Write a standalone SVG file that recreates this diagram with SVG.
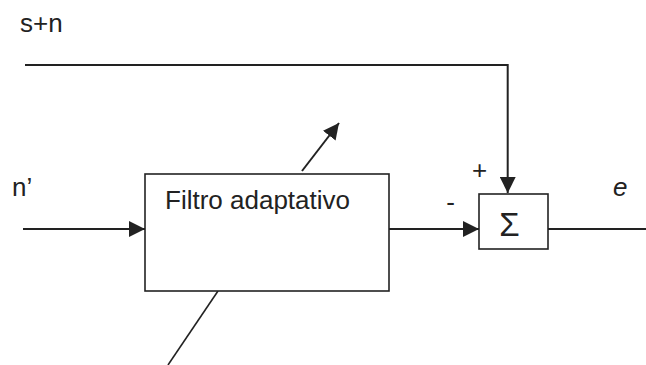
<svg xmlns="http://www.w3.org/2000/svg" width="646" height="365" viewBox="0 0 646 365">
<style>
text{font-family:"Liberation Sans",Arial,sans-serif;fill:#222;font-size:26px;}
.box{fill:#fff;stroke:#222;stroke-width:1.6;}
.ln{fill:none;stroke:#222;stroke-width:2;}
.thin{fill:none;stroke:#222;stroke-width:1.6;}
</style>
<defs>
<marker id="ah" viewBox="0 0 10 10" refX="10" refY="5" markerWidth="16" markerHeight="16" markerUnits="userSpaceOnUse" orient="auto">
<path d="M0,0 L10,5 L0,10 z" fill="#222"/>
</marker>
</defs>
<text x="20" y="32">s+n</text>
<text x="12" y="196">n’</text>
<g id="connectors">
<polyline class="ln" points="25,65 507.7,65 507.7,193" marker-end="url(#ah)"/>
<line class="ln" x1="23" y1="229" x2="145" y2="229" marker-end="url(#ah)"/>
<line class="ln" x1="389" y1="229" x2="479" y2="229" marker-end="url(#ah)"/>
<line class="ln" x1="548" y1="229" x2="646" y2="229"/>
<line class="ln" x1="302" y1="171" x2="339" y2="123" marker-end="url(#ah)"/>
<line class="thin" x1="218" y1="291" x2="168" y2="365"/>
</g>
<g id="filter">
<rect class="box" x="145" y="174" width="244" height="117"/>
<text x="165" y="209">Filtro adaptativo</text>
</g>
<g id="sum">
<rect class="box" x="479" y="194" width="69" height="55"/>
<text x="509.5" y="235.7" font-size="33" text-anchor="middle" style="font-size:33px">Σ</text>
</g>
<text x="479.5" y="179" text-anchor="middle">+</text>
<text x="450.5" y="211" text-anchor="middle">-</text>
<text x="613" y="196" font-style="italic">e</text>
</svg>
